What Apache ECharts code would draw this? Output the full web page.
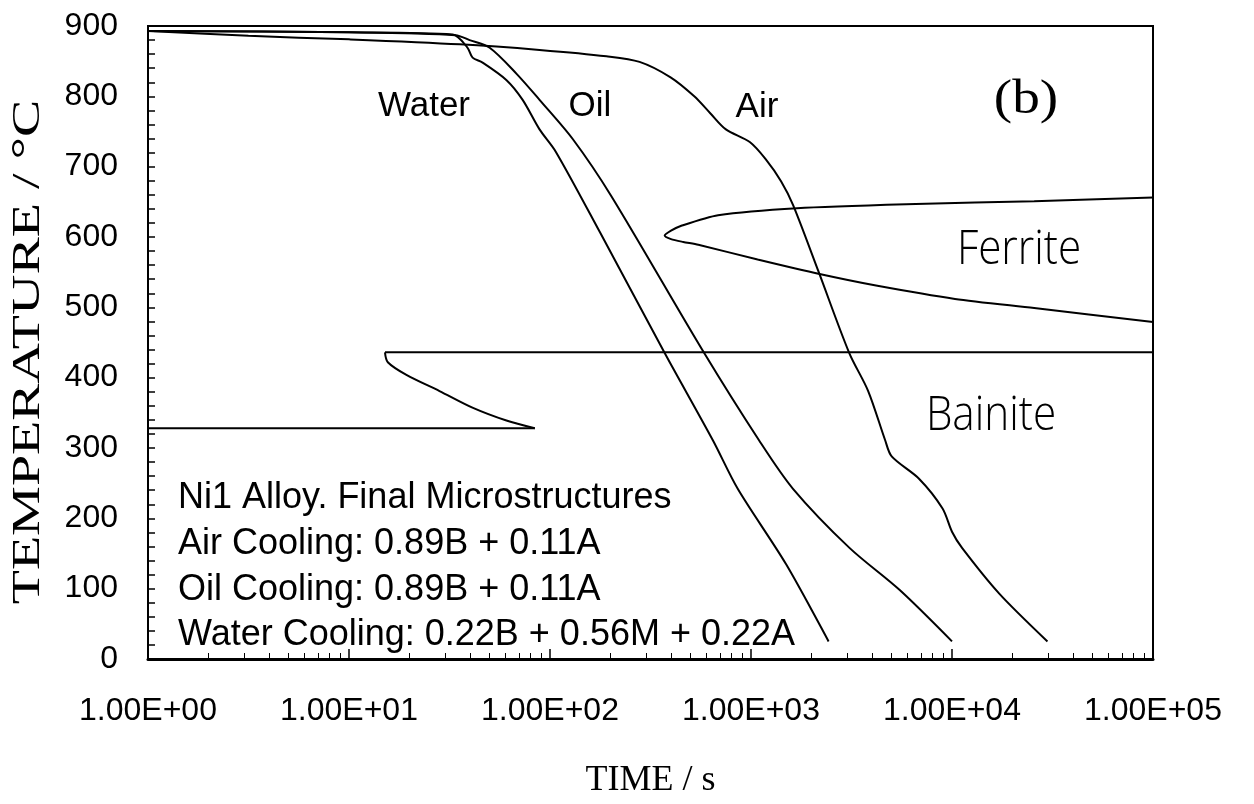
<!DOCTYPE html>
<html>
<head>
<meta charset="utf-8">
<script src="https://cdn.jsdelivr.net/npm/echarts@6/dist/echarts.min.js"></script>
<style>
html,body{margin:0;padding:0;background:#fff;}
#chart{width:1254px;height:804px;}
</style>
</head>
<body>
<div id="chart"></div>
<script>
// ---- data (time in s, temperature in °C) ----
const xTickLabels = ['1.00E+00','1.00E+01','1.00E+02','1.00E+03','1.00E+04','1.00E+05'];

const waterTime = [1, 10, 32.8, 38.9, 41.2, 46.2, 60.8, 73.1, 88.7, 107, 177, 372, 646, 859, 1493, 2432];
const waterTemp = [893, 891, 888, 869, 855, 848, 823, 795, 753, 721, 607, 435, 311, 242, 135, 25];

const oilTime = [1, 10, 33.9, 39.8, 50.1, 68.2, 88.7, 130, 202, 585, 1096, 1618, 3090, 5495, 10000];
const oilTemp = [893, 891, 887, 880, 869, 832, 795, 739, 658, 435, 311, 242, 158, 98, 25];

const airTime = [1, 3.16, 10, 35.5, 88.7, 191, 279, 398, 522, 627, 750, 986, 1180, 1413, 1622, 2173, 3083, 3828, 4650, 5012, 6871, 8974, 10000, 11220, 17180, 29850];
const airTemp = [893, 886, 881, 874, 866, 857, 849, 827, 800, 776, 753, 735, 711, 679, 645, 550, 435, 381, 311, 288, 256, 214, 181, 158, 93, 25];

const ferriteTime = [100000, 25640, 6592, 1694, 686, 450, 400, 372, 400, 460, 547, 1079, 2223, 4188, 10350, 25640, 100000];
const ferriteTemp = [656, 651, 647, 641, 631, 616, 609, 602, 597, 593, 589, 568, 547, 531, 512, 499, 479];

const bainiteCurveTime = [15.1, 15.6, 19.3, 28.2, 41.4, 60.7, 84];
const bainiteCurveTemp = [436, 422, 404, 381, 357, 339, 328];
const bainiteUpperTime = [15.1, 100000];
const bainiteUpperTemp = [436, 436];
const msLineTime = [1, 84];
const msLineTemp = [328, 328];

const legendLines = [
  'Ni1 Alloy. Final Microstructures',
  'Air Cooling: 0.89B + 0.11A',
  'Oil Cooling: 0.89B + 0.11A',
  'Water Cooling: 0.22B + 0.56M + 0.22A'
];

function zip(a, b) { return a.map((v, i) => [v, b[i]]); }

const chart = echarts.init(document.getElementById('chart'), null, {renderer: 'canvas'});

function lineSeries(name, data, smooth) {
  return {
    name: name, type: 'line', data: data, smooth: smooth,
    showSymbol: false, symbol: 'none', clip: true,
    lineStyle: {color: '#000', width: 2},
    z: 3
  };
}

const SANS = 'Liberation Sans, Arial, sans-serif';
const SERIF = 'Liberation Serif, Times New Roman, serif';
const LIGHT = 'Open Sans, Liberation Sans, sans-serif';

const graphics = [
  {type: 'text', x: 424, y: 106, style: {text: 'Water', fontSize: 35, fontFamily: SANS, fill: '#000', align: 'center', verticalAlign: 'middle'}},
  {type: 'text', x: 590, y: 106, style: {text: 'Oil', fontSize: 35, fontFamily: SANS, fill: '#000', align: 'center', verticalAlign: 'middle'}},
  {type: 'text', x: 757, y: 107, style: {text: 'Air', fontSize: 35, fontFamily: SANS, fill: '#000', align: 'center', verticalAlign: 'middle'}},
  {type: 'text', x: 1026, y: 100, scaleX: 1.15, style: {text: '(b)', fontSize: 48, fontFamily: SERIF, fill: '#000', align: 'center', verticalAlign: 'middle'}},
  {type: 'text', x: 1019, y: 250, scaleX: 0.88, style: {text: 'Ferrite', fontSize: 48, fontFamily: LIGHT, fontWeight: 300, fill: '#000', align: 'center', verticalAlign: 'middle'}},
  {type: 'text', x: 991, y: 416, scaleX: 0.88, style: {text: 'Bainite', fontSize: 48, fontFamily: LIGHT, fontWeight: 300, fill: '#000', align: 'center', verticalAlign: 'middle'}},
  {type: 'text', x: 28, y: 352, rotation: Math.PI / 2, scaleX: 1.4, style: {text: 'TEMPERATURE / °C', fontSize: 40, fontFamily: SERIF, fill: '#000', align: 'center', verticalAlign: 'middle'}}
];
const legendY = [498, 544, 590, 635];
legendLines.forEach((t, i) => {
  graphics.push({type: 'text', x: 178, y: legendY[i], style: {text: t, fontSize: 36, fontFamily: SANS, fill: '#000', align: 'left', verticalAlign: 'middle'}});
});

const option = {
  animation: false,
  backgroundColor: '#fff',
  grid: {left: 148, right: 101, top: 26, bottom: 130, show: true, borderColor: '#000', borderWidth: 2, backgroundColor: 'transparent'},
  xAxis: {
    type: 'log', logBase: 10, min: 1, max: 100000,
    axisLine: {show: true, onZero: false, lineStyle: {color: '#000', width: 3}},
    axisTick: {show: true, inside: true, length: 10, lineStyle: {color: '#000', width: 1.5}},
    minorTick: {show: true, splitNumber: 9, length: 6, lineStyle: {color: '#000', width: 1}},
    splitLine: {show: false}, minorSplitLine: {show: false},
    axisLabel: {
      margin: 36, fontSize: 32, fontFamily: SANS, color: '#000',
      formatter: function (v) { const k = Math.round(Math.log10(v)); return xTickLabels[k] !== undefined ? xTickLabels[k] : ''; }
    },
    name: 'TIME / s', nameLocation: 'middle', nameGap: 104,
    nameTextStyle: {fontFamily: SERIF, fontSize: 36, color: '#000'}
  },
  yAxis: {
    type: 'value', min: 0, max: 900, interval: 100,
    axisLine: {show: true, lineStyle: {color: '#000', width: 2}},
    axisTick: {show: true, inside: true, length: 7, lineStyle: {color: '#000', width: 1.5}},
    minorTick: {show: true, splitNumber: 5, length: 7, lineStyle: {color: '#000', width: 1.5}},
    splitLine: {show: false}, minorSplitLine: {show: false},
    axisLabel: {margin: 30, fontSize: 32, fontFamily: SANS, color: '#000'}
  },
  graphic: graphics,
  series: [
    lineSeries('Water', zip(waterTime, waterTemp), 0.3),
    lineSeries('Oil', zip(oilTime, oilTemp), 0.3),
    lineSeries('Air', zip(airTime, airTemp), 0.3),
    lineSeries('Ferrite', zip(ferriteTime, ferriteTemp), 0.25),
    lineSeries('Bainite start', zip(bainiteCurveTime, bainiteCurveTemp), 0.3),
    lineSeries('Bainite upper', zip(bainiteUpperTime, bainiteUpperTemp), false),
    lineSeries('Ms', zip(msLineTime, msLineTemp), false)
  ]
};
chart.setOption(option);
</script>
</body>
</html>
